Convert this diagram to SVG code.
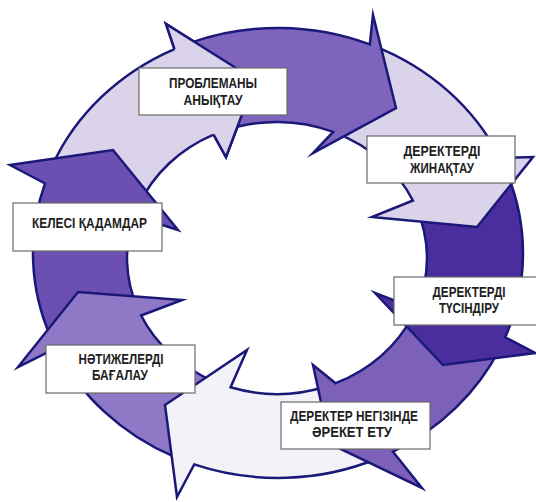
<svg xmlns="http://www.w3.org/2000/svg" width="536" height="502" viewBox="0 0 536 502">
<style>
.arr{stroke:#1a1878;stroke-width:2.5;stroke-linejoin:miter;stroke-miterlimit:10}
.lav{fill:#dbd3ea}
.box{fill:#ffffff;stroke:#6a6a6a;stroke-width:1.2}
.lbl{font-family:"Liberation Sans Narrow","Liberation Sans",Arial,sans-serif;font-weight:bold;font-size:14px;fill:#1e1e1e;text-anchor:middle}
</style>
<rect width="536" height="502" fill="#ffffff"/>
<g id="connectors">
  <path id="arrow-f" class="arr lav" d="M52.5,165.1 A245,225 0 0 1 174.5,49.1 L166,24 L255,80 L226,157 L213.6,134.7 A150,136 0 0 0 138.9,204.9 Z"/>
  <path id="arrow-k" class="arr" fill="#6c50b1" d="M50.8,337.3 A245,225 0 0 1 45,183.5 L10,165 L113,150 L178,230 L134.3,216 A150,136 0 0 0 137.9,308.9 Z"/>
  <path id="arrow-n" class="arr" fill="#8f78c6" d="M174.5,456.9 A245,225 0 0 1 56,348.1 L18,367 L78,292 L182,300 L141.1,315.5 A150,136 0 0 0 213.6,381.3 Z"/>
  <path id="arrow-w" class="arr" fill="#f4f2f9" d="M377.6,458.5 A245,225 0 0 1 194.2,464.4 L177,497 L165,405 L247,350 L230.6,387.3 A150,136 0 0 0 324.6,387 Z"/>
  <path id="arrow-d" class="arr" fill="#7c60b9" d="M500,348.1 A245,225 0 0 1 393,451.7 L422,488 L330,444 L313,365 L335.6,383.2 A150,136 0 0 0 412.9,315.5 Z"/>
  <path id="arrow-c" class="arr" fill="#4b2e9d" d="M506.7,172.4 A245,225 0 0 1 505.2,337.3 L535,353 L443,365 L375,293 L416.1,308.9 A150,136 0 0 0 417,209.3 Z"/>
  <path id="arrow-b" class="arr lav" d="M373.7,45.9 A245,225 0 0 1 500,157.9 L533,157 L477,227 L372,217 L412.9,200.5 A150,136 0 0 0 335.6,132.8 Z"/>
  <path id="arrow-a" class="arr" fill="#7e64bc" d="M190.2,42.9 A245,225 0 0 1 369.8,44.4 L373,15 L396,108 L313,153 L333.2,131.9 A150,136 0 0 0 223.2,131 Z"/>
  <polygon class="lav" points="174.5,49.1 166,24 255,80 226,157 213.6,134.7"/>
  <polyline class="arr" fill="none" points="174.5,49.1 166,24 255,80 226,157 213.6,134.7"/>
</g>
<g id="node-problem">
  <rect class="box" x="139" y="68" width="148" height="47"/>
  <text class="lbl" x="213" y="88" textLength="88" lengthAdjust="spacingAndGlyphs">ПРОБЛЕМАНЫ</text>
  <text class="lbl" x="213" y="105" textLength="59" lengthAdjust="spacingAndGlyphs">АНЫҚТАУ</text>
</g>
<g id="node-collect">
  <rect class="box" x="367" y="136" width="148" height="47"/>
  <text class="lbl" x="442" y="156" textLength="77" lengthAdjust="spacingAndGlyphs">ДЕРЕКТЕРДІ</text>
  <text class="lbl" x="442" y="173" textLength="64" lengthAdjust="spacingAndGlyphs">ЖИНАҚТАУ</text>
</g>
<g id="node-interpret">
  <rect class="box" x="394" y="277" width="148" height="48"/>
  <text class="lbl" x="469" y="297" textLength="73" lengthAdjust="spacingAndGlyphs">ДЕРЕКТЕРДІ</text>
  <text class="lbl" x="469" y="313" textLength="60" lengthAdjust="spacingAndGlyphs">ТҮСІНДІРУ</text>
</g>
<g id="node-act">
  <rect class="box" x="281" y="402" width="149" height="47"/>
  <text class="lbl" x="354" y="421" textLength="128" lengthAdjust="spacingAndGlyphs">ДЕРЕКТЕР НЕГІЗІНДЕ</text>
  <text class="lbl" x="352" y="437" textLength="80" lengthAdjust="spacingAndGlyphs">ӘРЕКЕТ ЕТУ</text>
</g>
<g id="node-evaluate">
  <rect class="box" x="46" y="345" width="149" height="48"/>
  <text class="lbl" x="121" y="364" textLength="85" lengthAdjust="spacingAndGlyphs">НӘТИЖЕЛЕРДІ</text>
  <text class="lbl" x="120" y="380" textLength="56" lengthAdjust="spacingAndGlyphs">БАҒАЛАУ</text>
</g>
<g id="node-next">
  <rect class="box" x="13" y="203" width="149" height="48"/>
  <text class="lbl" x="89.5" y="228" textLength="115" lengthAdjust="spacingAndGlyphs">КЕЛЕСІ ҚАДАМДАР</text>
</g>
</svg>
